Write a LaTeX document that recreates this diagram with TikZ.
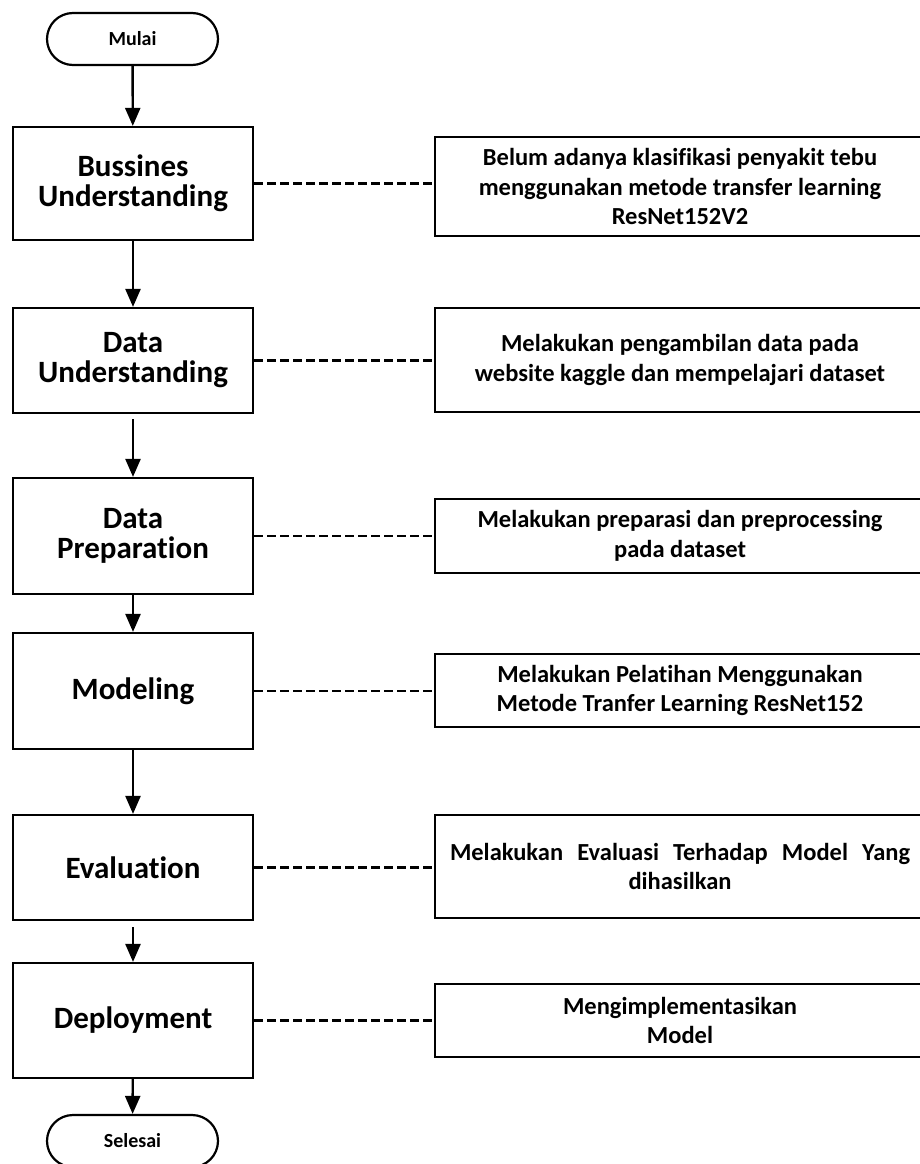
\documentclass[tikz,border=0pt]{standalone}
\usepackage{fontspec}
\setmainfont{Carlito}[Ligatures={NoCommon,NoRequired,NoContextual}]
\usetikzlibrary{arrows.meta}
\begin{document}
\begin{tikzpicture}[x=1pt,y=-1pt,
  stagebox/.style={draw=black, line width=2.2pt, rectangle, minimum width=240pt, inner sep=2pt, align=center, font=\fontsize{31}{30}\selectfont\bfseries},
  descbox/.style={draw=black, line width=2.2pt, rectangle, minimum width=490pt, inner sep=2pt, align=center, font=\fontsize{24.5}{29.5}\selectfont\bfseries},
  termbox/.style={draw=black, line width=2.2pt, rectangle, rounded corners=26pt, minimum width=171pt, minimum height=52pt, font=\fontsize{20}{24}\selectfont\bfseries},
  arr/.style={draw=black, line width=2.4pt, -{Triangle[width=15pt,length=18pt]}},
  dashlink/.style={draw=black, line width=2.2pt, dash pattern=on 9pt off 4pt}
]
\useasboundingbox (0,0) rectangle (919,1164);

\node[termbox] (start) at (132.5,39) {Mulai};
\node[stagebox, minimum height=113pt] (b1) at (133,183.5) {Bussines\\Understanding};
\node[stagebox, minimum height=105pt] (b2) at (133,360.5) {Data\\Understanding};
\node[stagebox, minimum height=116pt] (b3) at (133,536) {Data\\Preparation};
\node[stagebox, minimum height=116pt] (b4) at (133,691) {Modeling};
\node[stagebox, minimum height=105pt] (b5) at (133,867.5) {Evaluation};
\node[stagebox, minimum height=115pt] (b6) at (133,1020.5) {Deployment};
\node[termbox] (end) at (132.5,1141) {Selesai};

\node[descbox, minimum height=99pt] (r1) at (680,186.5) {Belum adanya klasifikasi penyakit tebu\\menggunakan metode transfer learning\\ResNet152V2};
\node[descbox, minimum height=104pt] (r2) at (680,360) {Melakukan pengambilan data pada\\website kaggle dan mempelajari dataset};
\node[descbox, minimum height=74pt] (r3) at (680,536) {Melakukan preparasi dan preprocessing\\pada dataset};
\node[descbox, minimum height=73pt] (r4) at (680,690.5) {Melakukan Pelatihan Menggunakan\\Metode Tranfer Learning ResNet152};
\node[descbox, minimum height=103pt] (r5) at (680,866.5) {\makebox[460pt][s]{Melakukan Evaluasi Terhadap Model Yang}\\dihasilkan};
\node[descbox, minimum height=73pt] (r6) at (680,1020.5) {Mengimplementasikan\\Model};

\draw[arr] (start) -- (b1);
\draw[arr] (b1) -- (b2);
\draw[arr, shorten <=5pt] (b2) -- (b3);
\draw[arr] (b3) -- (b4);
\draw[arr] (b4) -- (b5);
\draw[arr, shorten <=6pt] (b5) -- (b6);
\draw[arr] (b6) -- (end);

\draw[dashlink] (b1.east) -- (b1.east -| r1.west);
\draw[dashlink] (b2.east) -- (b2.east -| r2.west);
\draw[dashlink] (b3.east) -- (b3.east -| r3.west);
\draw[dashlink] (b4.east) -- (b4.east -| r4.west);
\draw[dashlink] (b5.east) -- (b5.east -| r5.west);
\draw[dashlink] (b6.east) -- (b6.east -| r6.west);
\end{tikzpicture}
\end{document}
